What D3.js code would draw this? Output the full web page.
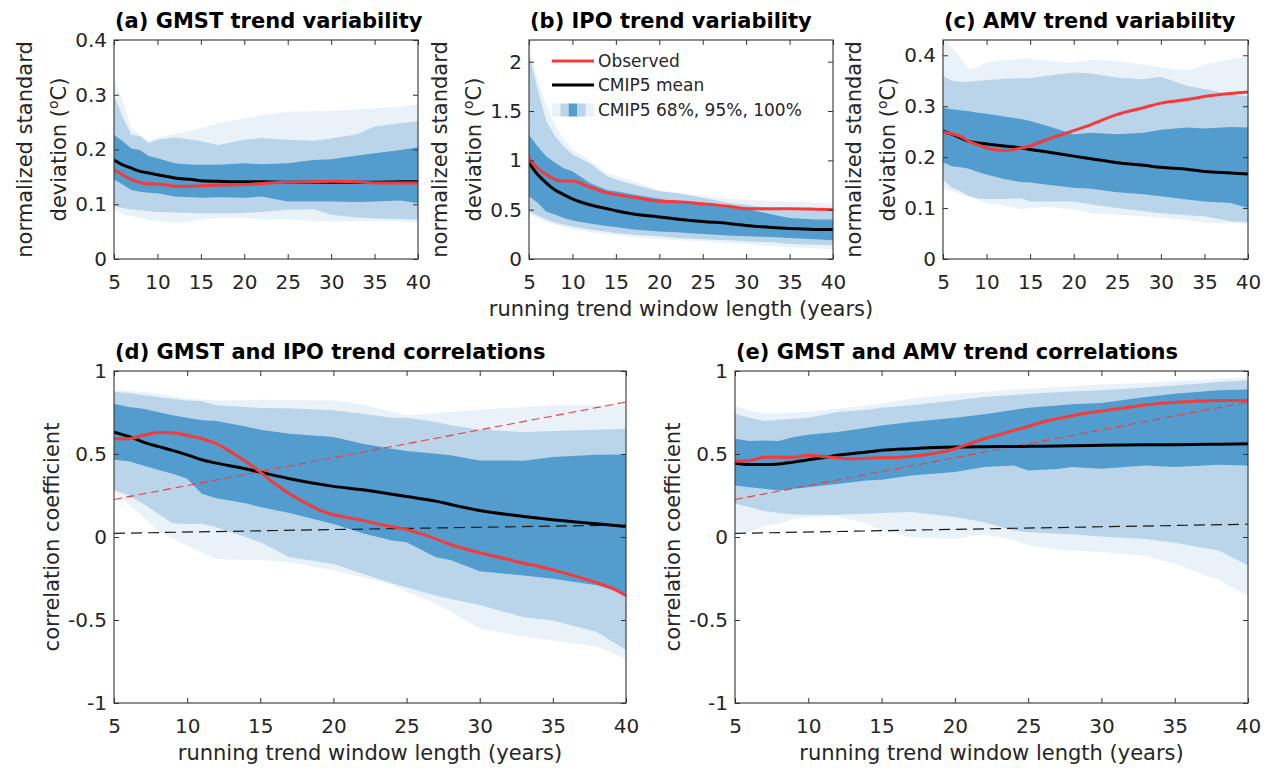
<!DOCTYPE html>
<html><head><meta charset="utf-8">
<script src="https://cdn.jsdelivr.net/npm/d3@7"></script>
<style>body{margin:0;background:#fff}svg{display:block}</style>
</head><body>
<svg id="chart" width="1270" height="770"></svg>
<script>
// ---------------- DATA ----------------
const xTicks = [5, 10, 15, 20, 25, 30, 35, 40];
const xTickLabels = ["5", "10", "15", "20", "25", "30", "35", "40"];
const yTicksSmall = [0, 0.1, 0.2, 0.3, 0.4];
const yTickLabelsSmall = ["0", "0.1", "0.2", "0.3", "0.4"];
const yTicksIPO = [0, 0.5, 1, 1.5, 2];
const yTickLabelsIPO = ["0", "0.5", "1", "1.5", "2"];
const yTicksCorr = [-1, -0.5, 0, 0.5, 1];
const yTickLabelsCorr = ["-1", "-0.5", "0", "0.5", "1"];

const yrsTop = [5, 6, 7, 8, 9, 10, 12, 14, 15, 17, 20, 22, 25, 28, 30, 33, 35, 38, 40];
const yrsBot = [5, 6, 7, 8, 9, 10, 11, 12, 14, 15, 17, 20, 22, 24, 25, 27, 28, 30, 33, 35, 38, 40];
const yrsFine = [5, 6, 7, 8, 9, 10, 11, 12, 13, 14, 15, 16, 17, 18, 19, 20, 21, 22, 23, 24, 25, 26, 27, 28, 29, 30, 31, 32, 33, 34, 35, 36, 37, 38, 39, 40];
const yrsDash = [5, 20, 40];

// (a) GMST trend variability
const gmstLo100 = [0.090, 0.082, 0.078, 0.075, 0.072, 0.069, 0.066, 0.069, 0.072, 0.075, 0.075, 0.072, 0.072, 0.069, 0.069, 0.069, 0.069, 0.069, 0.066];
const gmstLo95  = [0.097, 0.093, 0.091, 0.089, 0.087, 0.086, 0.085, 0.084, 0.083, 0.083, 0.084, 0.086, 0.090, 0.091, 0.081, 0.076, 0.074, 0.073, 0.072];
const gmstLo68  = [0.145, 0.136, 0.126, 0.123, 0.121, 0.120, 0.114, 0.113, 0.112, 0.113, 0.112, 0.114, 0.105, 0.105, 0.105, 0.104, 0.105, 0.107, 0.102];
const gmstHi68  = [0.227, 0.215, 0.202, 0.199, 0.188, 0.184, 0.175, 0.172, 0.172, 0.172, 0.175, 0.173, 0.175, 0.181, 0.182, 0.189, 0.193, 0.199, 0.204];
const gmstHi95  = [0.300, 0.260, 0.227, 0.224, 0.212, 0.218, 0.222, 0.218, 0.215, 0.208, 0.218, 0.221, 0.218, 0.216, 0.220, 0.228, 0.242, 0.248, 0.252];
const gmstHi100 = [0.327, 0.290, 0.239, 0.227, 0.215, 0.222, 0.228, 0.235, 0.239, 0.248, 0.257, 0.263, 0.269, 0.270, 0.271, 0.273, 0.275, 0.278, 0.283];
const gmstMean  = [0.181, 0.172, 0.166, 0.160, 0.157, 0.154, 0.148, 0.145, 0.143, 0.142, 0.141, 0.141, 0.140, 0.140, 0.140, 0.140, 0.140, 0.141, 0.141];
const gmstObs   = [0.163, 0.154, 0.145, 0.140, 0.137, 0.137, 0.133, 0.133, 0.134, 0.135, 0.136, 0.138, 0.140, 0.141, 0.142, 0.141, 0.139, 0.139, 0.139];

// (b) IPO trend variability
const ipoLo100 = [0.45, 0.416, 0.372, 0.35, 0.325, 0.30, 0.27, 0.255, 0.247, 0.223, 0.20, 0.192, 0.18, 0.163, 0.152, 0.133, 0.12, 0.108, 0.10];
const ipoLo95  = [0.48, 0.44, 0.40, 0.37, 0.35, 0.33, 0.30, 0.275, 0.264, 0.247, 0.23, 0.213, 0.20, 0.19, 0.18, 0.17, 0.152, 0.145, 0.139];
const ipoLo68  = [0.636, 0.57, 0.48, 0.45, 0.416, 0.39, 0.36, 0.335, 0.325, 0.30, 0.28, 0.27, 0.254, 0.237, 0.23, 0.223, 0.213, 0.20, 0.19];
const ipoHi68  = [1.26, 1.14, 1.04, 0.975, 0.92, 0.89, 0.77, 0.70, 0.687, 0.653, 0.61, 0.585, 0.56, 0.535, 0.51, 0.45, 0.416, 0.40, 0.40];
const ipoHi95  = [2.07, 1.72, 1.40, 1.245, 1.14, 1.06, 0.97, 0.84, 0.805, 0.755, 0.687, 0.67, 0.62, 0.57, 0.55, 0.51, 0.49, 0.50, 0.50];
const ipoHi100 = [2.16, 1.82, 1.55, 1.36, 1.21, 1.11, 1.00, 0.87, 0.84, 0.79, 0.70, 0.67, 0.64, 0.61, 0.60, 0.585, 0.58, 0.57, 0.56];
const ipoMean  = [0.975, 0.856, 0.77, 0.70, 0.653, 0.61, 0.55, 0.51, 0.49, 0.457, 0.426, 0.406, 0.38, 0.36, 0.34, 0.32, 0.31, 0.30, 0.298];
const ipoObs   = [1.02, 0.92, 0.856, 0.805, 0.79, 0.79, 0.73, 0.67, 0.653, 0.626, 0.585, 0.58, 0.56, 0.535, 0.51, 0.51, 0.51, 0.505, 0.50];

// (c) AMV trend variability
const amvLo100 = [0.14, 0.133, 0.128, 0.123, 0.116, 0.11, 0.104, 0.098, 0.10, 0.102, 0.097, 0.09, 0.087, 0.084, 0.081, 0.076, 0.071, 0.07, 0.068];
const amvLo95  = [0.156, 0.14, 0.133, 0.123, 0.119, 0.118, 0.118, 0.119, 0.113, 0.113, 0.113, 0.107, 0.10, 0.094, 0.09, 0.086, 0.084, 0.074, 0.072];
const amvLo68  = [0.19, 0.182, 0.18, 0.177, 0.171, 0.166, 0.157, 0.151, 0.15, 0.146, 0.14, 0.138, 0.131, 0.127, 0.123, 0.117, 0.113, 0.11, 0.10];
const amvHi68  = [0.297, 0.294, 0.292, 0.29, 0.287, 0.285, 0.28, 0.275, 0.271, 0.261, 0.245, 0.248, 0.245, 0.248, 0.254, 0.258, 0.256, 0.259, 0.258];
const amvHi95  = [0.36, 0.35, 0.348, 0.348, 0.35, 0.351, 0.354, 0.355, 0.355, 0.36, 0.366, 0.364, 0.356, 0.353, 0.358, 0.34, 0.334, 0.323, 0.32];
const amvHi100 = [0.44, 0.415, 0.395, 0.372, 0.376, 0.386, 0.39, 0.393, 0.393, 0.389, 0.385, 0.391, 0.389, 0.382, 0.376, 0.37, 0.382, 0.392, 0.397];
const amvMean  = [0.251, 0.245, 0.238, 0.231, 0.228, 0.226, 0.222, 0.218, 0.215, 0.21, 0.202, 0.197, 0.189, 0.184, 0.18, 0.176, 0.172, 0.169, 0.167];
const amvObs   = [0.249, 0.246, 0.241, 0.231, 0.224, 0.218, 0.213, 0.218, 0.222, 0.235, 0.252, 0.264, 0.284, 0.297, 0.306, 0.313, 0.319, 0.325, 0.328];

// (d) GMST and IPO trend correlations
const gipoHi100 = [0.887, 0.88, 0.874, 0.864, 0.85, 0.834, 0.828, 0.823, 0.826, 0.827, 0.825, 0.823, 0.799, 0.753, 0.733, 0.745, 0.753, 0.767, 0.783, 0.793, 0.793, 0.793];
const gipoHi95  = [0.873, 0.867, 0.855, 0.843, 0.833, 0.823, 0.818, 0.793, 0.783, 0.777, 0.776, 0.763, 0.743, 0.719, 0.719, 0.693, 0.673, 0.646, 0.632, 0.638, 0.646, 0.652];
const gipoHi68  = [0.803, 0.783, 0.773, 0.753, 0.733, 0.719, 0.703, 0.699, 0.666, 0.646, 0.622, 0.602, 0.562, 0.532, 0.518, 0.502, 0.492, 0.461, 0.46, 0.482, 0.495, 0.497];
const gipoMean  = [0.632, 0.606, 0.572, 0.546, 0.522, 0.495, 0.465, 0.445, 0.411, 0.391, 0.351, 0.305, 0.284, 0.258, 0.244, 0.216, 0.196, 0.16, 0.124, 0.104, 0.08, 0.063];
const gipoLo68  = [0.466, 0.457, 0.431, 0.405, 0.381, 0.351, 0.26, 0.234, 0.204, 0.18, 0.144, 0.079, 0.023, -0.021, -0.031, -0.122, -0.138, -0.206, -0.232, -0.252, -0.29, -0.343];
const gipoLo95  = [0.284, 0.25, 0.20, 0.14, 0.083, 0.079, 0.08, 0.059, 0.0, -0.031, -0.122, -0.162, -0.222, -0.278, -0.302, -0.353, -0.373, -0.41, -0.483, -0.503, -0.573, -0.68];
const gipoLo100 = [0.27, 0.20, 0.12, 0.039, -0.011, -0.051, -0.092, -0.132, -0.138, -0.138, -0.152, -0.202, -0.242, -0.286, -0.33, -0.40, -0.45, -0.55, -0.60, -0.623, -0.66, -0.735];
const gipoObs   = [0.592, 0.592, 0.612, 0.630, 0.628, 0.612, 0.592, 0.562, 0.512, 0.455, 0.391, 0.321, 0.26, 0.21, 0.164, 0.134, 0.116, 0.10, 0.079, 0.063, 0.045, 0.019, -0.011, -0.045, -0.071, -0.095, -0.116, -0.136, -0.158, -0.176, -0.198, -0.222, -0.248, -0.276, -0.307, -0.353];
const gipoSigObs  = [0.226, 0.478, 0.813];
const gipoSigMean = [0.022, 0.045, 0.072];

// (e) GMST and AMV trend correlations
const gamvHi100 = [0.787, 0.763, 0.743, 0.747, 0.75, 0.753, 0.763, 0.773, 0.793, 0.803, 0.833, 0.863, 0.873, 0.888, 0.893, 0.903, 0.908, 0.918, 0.928, 0.94, 0.952, 0.962];
const gamvHi95  = [0.743, 0.719, 0.699, 0.706, 0.712, 0.719, 0.735, 0.753, 0.767, 0.779, 0.793, 0.823, 0.843, 0.855, 0.863, 0.872, 0.877, 0.884, 0.90, 0.913, 0.934, 0.944];
const gamvHi68  = [0.592, 0.578, 0.582, 0.578, 0.602, 0.616, 0.625, 0.632, 0.658, 0.672, 0.693, 0.719, 0.739, 0.765, 0.779, 0.792, 0.799, 0.807, 0.843, 0.863, 0.884, 0.888];
const gamvMean  = [0.444, 0.436, 0.436, 0.44, 0.451, 0.465, 0.478, 0.492, 0.512, 0.522, 0.532, 0.542, 0.544, 0.545, 0.546, 0.548, 0.549, 0.552, 0.555, 0.556, 0.559, 0.562];
const gamvLo68  = [0.31, 0.30, 0.29, 0.28, 0.29, 0.30, 0.31, 0.32, 0.34, 0.345, 0.371, 0.391, 0.421, 0.431, 0.401, 0.41, 0.421, 0.411, 0.431, 0.421, 0.435, 0.431];
const gamvLo95  = [0.20, 0.18, 0.156, 0.144, 0.136, 0.134, 0.134, 0.134, 0.14, 0.144, 0.15, 0.12, 0.089, 0.039, 0.029, 0.019, 0.017, 0.003, -0.012, -0.035, -0.081, -0.172];
const gamvLo100 = [0.039, 0.029, 0.069, 0.079, 0.11, 0.12, 0.122, 0.124, 0.079, 0.039, -0.001, -0.011, 0.015, -0.017, -0.051, -0.077, -0.083, -0.091, -0.115, -0.16, -0.26, -0.353];
const gamvObs   = [0.457, 0.461, 0.481, 0.481, 0.481, 0.492, 0.485, 0.477, 0.471, 0.475, 0.478, 0.478, 0.485, 0.495, 0.51, 0.532, 0.562, 0.592, 0.616, 0.642, 0.666, 0.693, 0.713, 0.731, 0.747, 0.759, 0.771, 0.783, 0.795, 0.805, 0.811, 0.817, 0.82, 0.823, 0.823, 0.823];
const gamvSigObs  = [0.226, 0.478, 0.813];
const gamvSigMean = [0.022, 0.046, 0.077];

const legendLabels = ["Observed", "CMIP5 mean", "CMIP5 68%, 95%, 100%"];

// ---------------- DRAWING ----------------
const FONT = "DejaVu Sans";
const TXT = "#262626";
const C100 = "#eaf2f9", C95 = "#bad5ea", C68 = "#529dcd";
const RED = "#f43a3a";
const svg = d3.select("#chart");
const defs = svg.append("defs");

function zip(xs, ys) { return xs.map((x, i) => [x, ys[i]]); }

let clipId = 0;
function panel(cfg) {
  const x = d3.scaleLinear().domain([5, 40]).range([cfg.left, cfg.right]);
  const y = d3.scaleLinear().domain(cfg.ydom).range([cfg.bottom, cfg.top]);
  const id = "clip" + (clipId++);
  defs.append("clipPath").attr("id", id).append("rect")
    .attr("x", cfg.left).attr("y", cfg.top)
    .attr("width", cfg.right - cfg.left).attr("height", cfg.bottom - cfg.top);
  const g = svg.append("g");
  const plot = g.append("g").attr("clip-path", `url(#${id})`);

  const area = d3.area().x(d => x(d[0])).y0(d => y(d[1])).y1(d => y(d[2]));
  const bands = [[cfg.lo100, cfg.hi100, C100], [cfg.lo95, cfg.hi95, C95], [cfg.lo68, cfg.hi68, C68]];
  bands.forEach(([lo, hi, col]) => {
    plot.append("path").datum(cfg.xs.map((xx, i) => [xx, lo[i], hi[i]]))
      .attr("d", area).attr("fill", col).attr("stroke", "none");
  });

  const lineLin = d3.line().x(d => x(d[0])).y(d => y(d[1]));
  const lineSm = d3.line().x(d => x(d[0])).y(d => y(d[1])).curve(d3.curveMonotoneX);
  if (cfg.sigMean) {
    plot.append("path").datum(zip(yrsDash, cfg.sigMean)).attr("d", lineLin)
      .attr("fill", "none").attr("stroke", "#1a1a1a").attr("stroke-width", 1.2)
      .attr("stroke-dasharray", "11,6");
    plot.append("path").datum(zip(yrsDash, cfg.sigObs)).attr("d", lineLin)
      .attr("fill", "none").attr("stroke", RED).attr("stroke-width", 1.1)
      .attr("stroke-dasharray", "8,4.5");
  }
  plot.append("path").datum(zip(cfg.xs, cfg.mean)).attr("d", lineSm)
    .attr("fill", "none").attr("stroke", "#000").attr("stroke-width", 3);
  plot.append("path").datum(zip(cfg.obsX, cfg.obs)).attr("d", lineSm)
    .attr("fill", "none").attr("stroke", RED).attr("stroke-width", 3);

  // axes (inward ticks on all four sides)
  const styleAxis = (sel) => {
    sel.select(".domain").remove();
    sel.selectAll("line").attr("stroke", "#333").attr("stroke-width", 1);
    sel.selectAll("text").attr("font-family", FONT).attr("font-size", 20).attr("fill", TXT);
  };
  g.append("g").attr("transform", `translate(0,${cfg.bottom})`)
    .call(d3.axisBottom(x).tickValues(xTicks).tickFormat((d, i) => xTickLabels[i])
      .tickSizeInner(-5).tickSizeOuter(0).tickPadding(15.5)).call(styleAxis);
  g.append("g").attr("transform", `translate(0,${cfg.top})`)
    .call(d3.axisTop(x).tickValues(xTicks).tickFormat("").tickSizeInner(-5).tickSizeOuter(0)).call(styleAxis);
  g.append("g").attr("transform", `translate(${cfg.left},0)`)
    .call(d3.axisLeft(y).tickValues(cfg.yticks).tickFormat((d, i) => cfg.ylabels[i])
      .tickSizeInner(-5).tickSizeOuter(0).tickPadding(7)).call(styleAxis);
  g.append("g").attr("transform", `translate(${cfg.right},0)`)
    .call(d3.axisRight(y).tickValues(cfg.yticks).tickFormat("").tickSizeInner(-5).tickSizeOuter(0)).call(styleAxis);

  g.append("rect").attr("x", cfg.left).attr("y", cfg.top)
    .attr("width", cfg.right - cfg.left).attr("height", cfg.bottom - cfg.top)
    .attr("fill", "none").attr("stroke", "#333").attr("stroke-width", 1.1);

  // title
  g.append("text").attr("x", cfg.left + 1).attr("y", cfg.titleY)
    .attr("font-family", FONT).attr("font-weight", "bold").attr("font-size", 21)
    .attr("fill", "#000").text(cfg.title);

  // y label
  const yc = (cfg.top + cfg.bottom) / 2;
  if (cfg.twoLineY) {
    g.append("text").attr("transform", `translate(${cfg.left - 82},${yc}) rotate(-90)`)
      .attr("text-anchor", "middle").attr("font-family", FONT).attr("font-size", 21)
      .attr("fill", TXT).text("normalized standard");
    const t = g.append("text").attr("transform", `translate(${cfg.left - 48},${yc}) rotate(-90)`)
      .attr("text-anchor", "middle").attr("font-family", FONT).attr("font-size", 21).attr("fill", TXT);
    t.append("tspan").text("deviation (");
    t.append("tspan").attr("font-size", 14).attr("dy", -8).text("o");
    t.append("tspan").attr("dy", 8).text("C)");
  } else {
    g.append("text").attr("transform", `translate(${cfg.left - 55},${yc}) rotate(-90)`)
      .attr("text-anchor", "middle").attr("font-family", FONT).attr("font-size", 21)
      .attr("fill", TXT).text("correlation coefficient");
  }
  if (cfg.xlabel) {
    g.append("text").attr("x", (cfg.left + cfg.right) / 2).attr("y", cfg.bottom + 57)
      .attr("text-anchor", "middle").attr("font-family", FONT).attr("font-size", 21)
      .attr("fill", TXT).text("running trend window length (years)");
  }
  return { g, x, y };
}

const TOP = { top: 40, bottom: 259, ydom: null, titleY: 28, twoLineY: true };
panel(Object.assign({}, TOP, {
  left: 114, right: 418, ydom: [0, 0.4], yticks: yTicksSmall, ylabels: yTickLabelsSmall,
  title: "(a) GMST trend variability", xs: yrsTop,
  lo100: gmstLo100, hi100: gmstHi100, lo95: gmstLo95, hi95: gmstHi95, lo68: gmstLo68, hi68: gmstHi68,
  mean: gmstMean, obsX: yrsTop, obs: gmstObs
}));
const pb = panel(Object.assign({}, TOP, {
  left: 529, right: 833, ydom: [0, 2.22], yticks: yTicksIPO, ylabels: yTickLabelsIPO,
  title: "(b) IPO trend variability", xs: yrsTop, xlabel: true,
  lo100: ipoLo100, hi100: ipoHi100, lo95: ipoLo95, hi95: ipoHi95, lo68: ipoLo68, hi68: ipoHi68,
  mean: ipoMean, obsX: yrsTop, obs: ipoObs
}));
panel(Object.assign({}, TOP, {
  left: 943, right: 1248, ydom: [0, 0.43], yticks: yTicksSmall, ylabels: yTickLabelsSmall,
  title: "(c) AMV trend variability", xs: yrsTop,
  lo100: amvLo100, hi100: amvHi100, lo95: amvLo95, hi95: amvHi95, lo68: amvLo68, hi68: amvHi68,
  mean: amvMean, obsX: yrsTop, obs: amvObs
}));
const BOT = { top: 371, bottom: 703, ydom: [-1, 1], yticks: yTicksCorr, ylabels: yTickLabelsCorr,
  titleY: 359, twoLineY: false, xlabel: true, xs: yrsBot, obsX: yrsFine };
panel(Object.assign({}, BOT, {
  left: 114, right: 626, title: "(d) GMST and IPO trend correlations",
  lo100: gipoLo100, hi100: gipoHi100, lo95: gipoLo95, hi95: gipoHi95, lo68: gipoLo68, hi68: gipoHi68,
  mean: gipoMean, obs: gipoObs, sigObs: gipoSigObs, sigMean: gipoSigMean
}));
panel(Object.assign({}, BOT, {
  left: 735, right: 1248, title: "(e) GMST and AMV trend correlations",
  lo100: gamvLo100, hi100: gamvHi100, lo95: gamvLo95, hi95: gamvHi95, lo68: gamvLo68, hi68: gamvHi68,
  mean: gamvMean, obs: gamvObs, sigObs: gamvSigObs, sigMean: gamvSigMean
}));

// legend in panel (b)
const lg = pb.g.append("g");
const lx0 = 552, lx1 = 594, ly = [61, 85, 110];
lg.append("line").attr("x1", lx0).attr("x2", lx1).attr("y1", ly[0]).attr("y2", ly[0])
  .attr("stroke", RED).attr("stroke-width", 3);
lg.append("line").attr("x1", lx0).attr("x2", lx1).attr("y1", ly[1]).attr("y2", ly[1])
  .attr("stroke", "#000").attr("stroke-width", 3);
const strips = [C100, C95, C68, C95, C100];
const sw = (lx1 - lx0) / strips.length;
strips.forEach((c, i) => {
  lg.append("rect").attr("x", lx0 + i * sw).attr("y", ly[2] - 6.5).attr("width", sw + 0.3)
    .attr("height", 13).attr("fill", c);
});
legendLabels.forEach((t, i) => {
  lg.append("text").attr("x", 598).attr("y", ly[i]).attr("dy", "0.36em")
    .attr("font-family", FONT).attr("font-size", 17).attr("fill", TXT).text(t);
});
</script>
</body></html>
